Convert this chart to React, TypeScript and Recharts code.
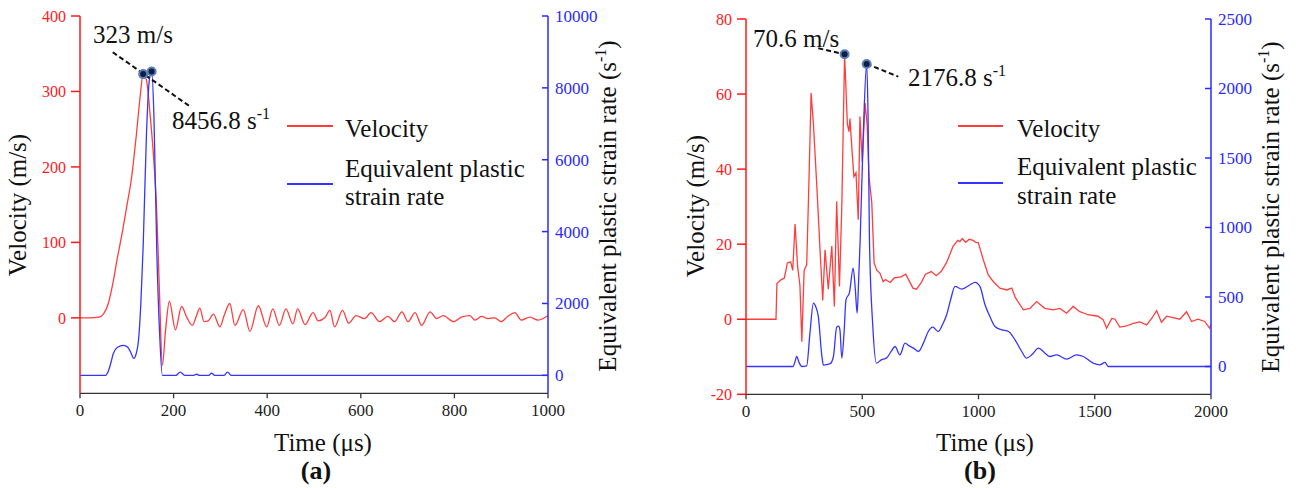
import React from "react";
import { LineChart, Line, XAxis, YAxis, ReferenceDot, ReferenceLine } from "recharts";

// (a) time (µs) vs velocity (m/s) / equivalent plastic strain rate (1/s)
const velocityA: [number, number][] = [
  [0, 0], [20, 0], [40, 1], [50, 5], [60, 18], [70, 45], [80, 80], [90, 112], [100, 148],
  [110, 185], [120, 240], [128, 290], [135, 323], [142, 315], [150, 268], [157, 215], [164, 140],
  [170, 30], [176, -63], [183, -15], [191, 22], [204, -16], [217, 15], [228, 1], [240, -10],
  [249, 3], [256, 13], [265, -5], [274, -4], [285, 5], [299, -12], [308, 3], [320, 19],
  [331, -10], [349, 11], [363, -18], [381, 16], [399, -12], [412, 12], [426, -10], [440, 12],
  [455, -8], [465, 12], [481, -9], [498, 7], [509, -4], [523, 0], [534, 10], [544, -12],
  [561, 10], [574, -7], [590, 3], [608, -1], [622, 7], [640, -5], [658, 2], [672, -5],
  [688, 8], [701, -5], [716, 7], [730, -10], [748, 8], [762, -1], [776, 3], [798, -5],
  [815, 1], [833, 3], [844, -3], [858, 2], [872, -1], [886, 0], [900, -5], [914, 2],
  [929, 7], [943, -3], [961, 1], [979, -3], [1000, 3],
];
const strainRateA: [number, number][] = [
  [0, 0], [55, 0], [60, 100], [66, 350], [71, 600], [80, 780], [93, 836], [102, 780],
  [108, 650], [115, 470], [120, 600], [125, 975], [130, 2000], [135, 3600], [142, 6700],
  [148, 8200], [153, 8456.8], [158, 7200], [164, 3500], [170, 1200], [176, 0], [205, 0],
  [214, 90], [224, 0], [243, 0], [249, 30], [256, 0], [275, 0], [281, 60], [288, 0],
  [308, 0], [315, 90], [323, 0], [1000, 0],
];

// (b)
const velocityB: [number, number][] = [
  [0, 0], [129, 0], [133, 9.5], [150, 10.5], [165, 11], [178, 15], [192, 15.3], [201, 13],
  [211, 25.4], [222, 14], [232, 9], [240, -6], [250, 13], [261, 14.5], [270, 35], [280, 60.3],
  [290, 52], [305, 35], [318, 19], [330, 5], [340, 18.5], [354, 8], [369, 19.5], [380, 3.4],
  [390, 31.4], [402, 8.7], [412, 30], [424, 70.6], [436, 52], [443, 50], [447, 53.5],
  [456, 45], [464, 38], [473, 39], [483, 26.5], [490, 54], [500, 42], [512, 57.6], [521, 52],
  [529, 38], [541, 31], [551, 15], [563, 13], [576, 12.3], [590, 10], [600, 10.6], [620, 9.8],
  [638, 11], [667, 11.3], [687, 12], [718, 8.3], [733, 8], [753, 9.7], [772, 12], [797, 12.7],
  [818, 11.6], [839, 12.7], [862, 15], [891, 19.5], [911, 21], [920, 20.7], [930, 21.5],
  [945, 20.5], [960, 21.3], [977, 21], [990, 20.4], [999, 20.4], [1020, 16], [1042, 11.8],
  [1064, 10], [1092, 8.3], [1121, 7.8], [1143, 8.3], [1158, 5.8], [1193, 2.5], [1221, 2.9],
  [1250, 4.7], [1285, 2.9], [1321, 2.5], [1350, 2.9], [1379, 1.6], [1407, 3.4], [1436, 2],
  [1471, 1.2], [1514, 0.8], [1536, -0.1], [1551, -2.4], [1573, 0.2], [1587, 0], [1608, -2.1],
  [1637, -1.8], [1665, -1.1], [1694, -0.7], [1723, -1.5], [1745, 0.2], [1766, 2.3],
  [1787, -0.8], [1809, 0.8], [1837, 0.4], [1866, 0], [1895, 2], [1916, -0.6], [1944, 0],
  [1973, -0.6], [1994, -2.4], [2000, -1.5],
];
const strainRateB: [number, number][] = [
  [0, 0], [203, 0], [210, 30], [218, 72], [228, 30], [240, 0], [261, 5], [275, 240],
  [290, 456], [300, 430], [311, 360], [326, 80], [333, 10], [362, 20], [376, 72], [390, 283],
  [398, 290], [404, 264], [412, 60], [422, 250], [430, 480], [445, 532], [461, 708],
  [470, 560], [478, 384], [484, 600], [491, 912], [505, 1700], [519, 2176.8], [525, 1800],
  [531, 912], [545, 300], [561, 24], [582, 48], [604, 60], [625, 110], [641, 144], [662, 84],
  [684, 168], [700, 150], [720, 132], [741, 108], [763, 168], [784, 252], [803, 283],
  [827, 252], [845, 300], [863, 372], [880, 480], [899, 576], [928, 557], [964, 588],
  [985, 605], [1006, 576], [1028, 444], [1049, 360], [1071, 288], [1100, 264], [1129, 252],
  [1157, 192], [1186, 108], [1207, 60], [1229, 84], [1258, 132], [1286, 96], [1307, 72],
  [1336, 84], [1379, 53], [1422, 84], [1451, 72], [1493, 24], [1522, 12], [1544, 29],
  [1558, 0], [2000, 0],
];

const timeTicksA = [0, 200, 400, 600, 800, 1000];
const velTicksA = [0, 100, 200, 300, 400];
const rateTicksA = [0, 2000, 4000, 6000, 8000, 10000];
const timeTicksB = [0, 500, 1000, 1500, 2000];
const velTicksB = [-20, 0, 20, 40, 60, 80];
const rateTicksB = [0, 500, 1000, 1500, 2000, 2500];

// peak markers [time, value]
const velPeakA = [135, 323];
const ratePeakA = [153, 8456.8];
const velPeakB = [424, 70.6];
const ratePeakB = [519, 2176.8];

// dashed leader lines, in data units
const leadersA = [{ axis: "v", pts: [[70, 352], [233, 281]] }];
const leadersB = [
  { axis: "v", pts: [[311, 72.2], [424, 70.6]] },
  { axis: "r", pts: [[519, 2176.8], [655, 2085]] },
];

const FONT = '"Liberation Serif", "Times New Roman", serif';
const AX_RED = "#ff1a1a";
const AX_BLUE = "#2a2aff";
const LN_RED = "#ff3d3d";
const LN_BLUE = "#3535ff";

const toRows = (arr: [number, number][]) => arr.map(([t, y]) => ({ t, y }));

// right axis: tick mark points into the plot, label sits outside
const RightTick = ({ x, y, payload }: any) => (
  <g>
    <line x1={x - 7} x2={x - 13} y1={y} y2={y} stroke={AX_BLUE} strokeWidth={1.5} />
    <text x={x} y={y} dy="0.35em" fontSize={17} fontFamily={FONT} fill={AX_BLUE}>{payload.value}</text>
  </g>
);

// top frame: inward tick marks only
const TopTick = ({ x, y }: any) => (
  <line x1={x} x2={x} y1={y} y2={y + 7} stroke="#333" strokeWidth={1.3} />
);

function Panel(p: any) {
  return (
    <LineChart width={649} height={488} margin={p.margin} style={{ fontFamily: FONT }}>
      <XAxis type="number" dataKey="t" domain={p.xDomain} ticks={p.xTicks} allowDataOverflow
        height={30} tickSize={5} tickMargin={6} stroke="#333" strokeWidth={1.3}
        tick={{ fontSize: 17, fontFamily: FONT, fill: "#222" }} />
      <XAxis xAxisId="top" orientation="top" type="number" dataKey="t" domain={p.xDomain}
        ticks={p.xTicks} allowDataOverflow height={0} tickSize={0} tickMargin={0}
        tickLine={false} tick={<TopTick />} stroke="#333" strokeWidth={1.3} />
      <YAxis yAxisId="v" type="number" domain={p.vDomain} ticks={p.vTicks} allowDataOverflow
        width={p.leftWidth} tickSize={9} tickMargin={5} stroke={AX_RED} strokeWidth={1.5}
        tick={{ fontSize: 16, fontFamily: FONT, fill: AX_RED }} />
      <YAxis yAxisId="r" orientation="right" type="number" domain={p.rDomain} ticks={p.rTicks}
        allowDataOverflow width={p.rightWidth} tickSize={0} tickMargin={7} tickLine={false}
        stroke={AX_BLUE} strokeWidth={1.5} tick={<RightTick />} />
      <Line yAxisId="v" data={toRows(p.velocity)} dataKey="y" type={p.vType} stroke={LN_RED}
        strokeWidth={1.3} dot={false} isAnimationActive={false} />
      <Line yAxisId="r" data={toRows(p.rate)} dataKey="y" type="monotone" stroke={LN_BLUE}
        strokeWidth={1.3} dot={false} isAnimationActive={false} />
      {p.leaders.map((l: any, i: number) => (
        <ReferenceLine key={i} yAxisId={l.axis}
          segment={[{ x: l.pts[0][0], y: l.pts[0][1] }, { x: l.pts[1][0], y: l.pts[1][1] }]}
          stroke="#111" strokeWidth={2} strokeDasharray="5 3" ifOverflow="visible" />
      ))}
      <ReferenceDot yAxisId="v" x={p.velPeak[0]} y={p.velPeak[1]} r={4} fill="#0b1f45"
        stroke="#5c7fb8" strokeWidth={2} ifOverflow="visible" />
      <ReferenceDot yAxisId="r" x={p.ratePeak[0]} y={p.ratePeak[1]} r={4} fill="#0b1f45"
        stroke="#5c7fb8" strokeWidth={2} ifOverflow="visible" />
    </LineChart>
  );
}

function Sup({ x, y, base }: any) {
  return (
    <text x={x} y={y} fontSize={25}>
      {base}
      <tspan fontSize={16} dy={-10}>-1</tspan>
    </text>
  );
}

function RateTitle({ x, y }: any) {
  return (
    <text transform={`translate(${x},${y}) rotate(-90)`} fontSize={25} textAnchor="middle">
      Equivalent plastic strain rate (s<tspan fontSize={16} dy={-10}>-1</tspan>
      <tspan dy={10}>)</tspan>
    </text>
  );
}

function LegendBlock({ x0, x1, tx, yv, ye, b1, b2, b3 }: any) {
  return (
    <g>
      <line x1={x0} x2={x1} y1={yv} y2={yv} stroke={LN_RED} strokeWidth={2} />
      <line x1={x0} x2={x1} y1={ye} y2={ye} stroke={LN_BLUE} strokeWidth={2} />
      <text x={tx} y={b1} fontSize={25}>Velocity</text>
      <text x={tx} y={b2} fontSize={25}>Equivalent plastic</text>
      <text x={tx} y={b3} fontSize={25}>strain rate</text>
    </g>
  );
}

export default function App() {
  return (
    <div style={{ position: "absolute", left: 0, top: 0, width: 1298, height: 488, background: "#fff", fontFamily: FONT }}>
      <style>{`svg text, svg tspan { font-family: "Liberation Serif", "Times New Roman", serif !important; }`}</style>
      <div style={{ position: "absolute", left: 0, top: 0 }}>
        <Panel margin={{ top: 16, right: 0, left: 0, bottom: 64.7 }} leftWidth={80} rightWidth={101}
          xDomain={[0, 1000]} xTicks={timeTicksA} vDomain={[-100, 400]} vTicks={velTicksA}
          rDomain={[-500, 10000]} rTicks={rateTicksA} velocity={velocityA} rate={strainRateA}
          vType="monotone" velPeak={velPeakA} ratePeak={ratePeakA} leaders={leadersA} />
      </div>
      <div style={{ position: "absolute", left: 649, top: 0 }}>
        <Panel margin={{ top: 19, right: 0, left: 0, bottom: 63.7 }} leftWidth={97} rightWidth={87}
          xDomain={[0, 2000]} xTicks={timeTicksB} vDomain={[-20, 80]} vTicks={velTicksB}
          rDomain={[-200, 2500]} rTicks={rateTicksB} velocity={velocityB} rate={strainRateB}
          vType="linear" velPeak={velPeakB} ratePeak={ratePeakB} leaders={leadersB} />
      </div>
      <svg width={1298} height={488} style={{ position: "absolute", left: 0, top: 0, pointerEvents: "none" }}
        fontFamily={FONT} fill="#111">
        {/* (a) */}
        <text transform="translate(26,205) rotate(-90)" fontSize={25} textAnchor="middle">Velocity (m/s)</text>
        <RateTitle x={616} y={206} />
        <text x={323} y={451} fontSize={25} textAnchor="middle">Time (μs)</text>
        <text x={316} y={479} fontSize={26} fontWeight="bold" textAnchor="middle">(a)</text>
        <LegendBlock x0={287} x1={333} tx={345} yv={126} ye={184} b1={137} b2={177} b3={205} />
        <text x={93} y={43} fontSize={25}>323 m/s</text>
        <Sup x={172} y={129} base="8456.8 s" />
        {/* (b) */}
        <text transform="translate(704,206) rotate(-90)" fontSize={25} textAnchor="middle">Velocity (m/s)</text>
        <RateTitle x={1279} y={207} />
        <text x={985} y={451} fontSize={25} textAnchor="middle">Time (μs)</text>
        <text x={980} y={479} fontSize={26} fontWeight="bold" textAnchor="middle">(b)</text>
        <LegendBlock x0={958} x1={1003} tx={1017} yv={126} ye={183} b1={137} b2={175} b3={204} />
        <text x={753} y={47} fontSize={25}>70.6 m/s</text>
        <Sup x={908} y={86} base="2176.8 s" />
      </svg>
    </div>
  );
}
